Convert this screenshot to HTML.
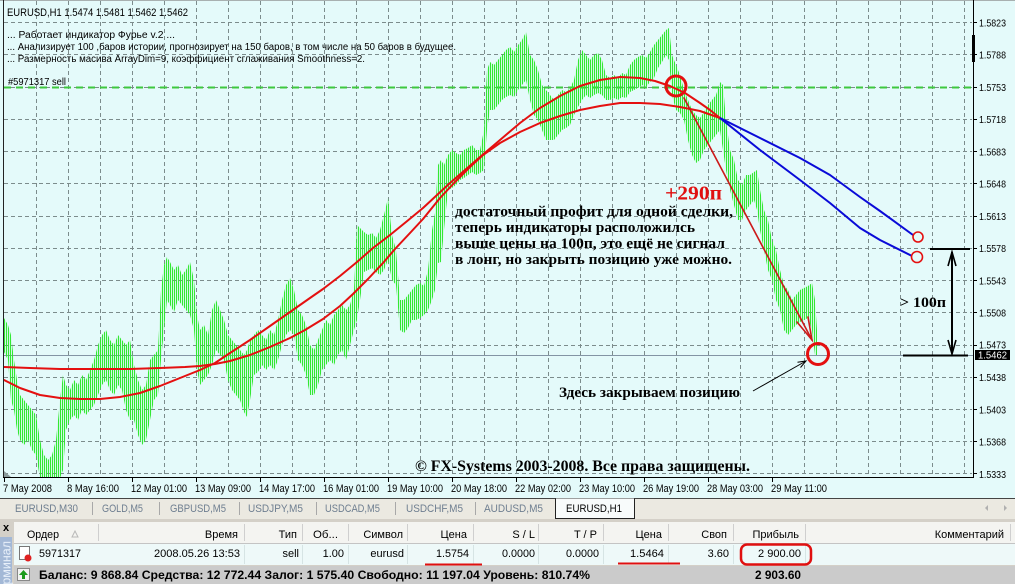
<!DOCTYPE html>
<html><head><meta charset="utf-8"><style>
html,body{margin:0;padding:0;background:#e4fafa;}
svg{display:block;}
</style></head><body>
<svg width="1015" height="584" viewBox="0 0 1015 584" xmlns="http://www.w3.org/2000/svg" font-family="'Liberation Sans','DejaVu Sans',sans-serif">
<defs>
<pattern id="bars" patternUnits="userSpaceOnUse" x="0" y="0" width="2" height="4">
<rect x="0" y="0" width="1" height="4" fill="#33e833"/>
<rect x="1" y="0" width="1" height="4" fill="#33e833" opacity="0.12"/>
</pattern>
<clipPath id="cl"><rect x="4" y="1" width="969" height="476"/></clipPath>
</defs>

<!-- chart background -->
<rect x="0" y="0" width="1015" height="498" fill="#e4fafa"/>
<line x1="0" y1="0.5" x2="1015" y2="0.5" stroke="#a8b0b0"/>

<!-- grid -->
<g stroke="#7c8c8c" stroke-width="1" stroke-dasharray="4,3" fill="none">
<path d="M4 22.5H972M4 54.5H972M4 87.5H972M4 119.5H972M4 151.5H972M4 183.5H972M4 216.5H972M4 248.5H972M4 280.5H972M4 312.5H972M4 345.5H972M4 377.5H972M4 409.5H972M4 441.5H972M4 473.5H972"/>
<path d="M36.5 1V477M68.5 1V477M100.5 1V477M132.5 1V477M164.5 1V477M196.5 1V477M228.5 1V477M260.5 1V477M292.5 1V477M324.5 1V477M356.5 1V477M388.5 1V477M420.5 1V477M452.5 1V477M484.5 1V477M516.5 1V477M548.5 1V477M580.5 1V477M612.5 1V477M644.5 1V477M676.5 1V477M708.5 1V477M740.5 1V477M772.5 1V477M804.5 1V477M836.5 1V477M868.5 1V477M900.5 1V477M932.5 1V477M964.5 1V477"/>
</g>

<!-- price line & order line -->
<line x1="4" y1="355.5" x2="973" y2="355.5" stroke="#8394a4" stroke-width="1"/>
<line x1="4" y1="87.5" x2="972" y2="87.5" stroke="#3ec83e" stroke-width="2" stroke-dasharray="7,5"/>

<!-- price bars -->
<polygon clip-path="url(#cl)" fill="url(#bars)" points="4,318 8,325 11,335 14,360 17,380 20,395 24,400 28,405 32,410 36,415 40,440 44,455 48,460 52,455 56,440 60,400 63,375 66,385 70,390 74,380 78,385 82,375 86,380 90,370 94,360 98,345 102,335 106,330 110,340 114,345 118,335 122,340 126,345 130,340 134,365 138,380 142,390 146,385 150,360 154,355 158,350 161,290 164,265 167,257 170,262 174,270 178,265 182,275 186,270 190,262 194,280 197,315 200,330 204,325 208,335 212,310 216,300 220,310 224,320 228,335 232,340 236,345 240,350 244,355 247,350 250,340 254,335 258,330 262,335 266,340 270,330 274,335 278,320 282,300 286,285 290,278 294,290 298,310 302,315 306,325 310,345 314,350 318,340 322,330 326,320 330,325 334,315 338,310 342,305 346,310 350,305 354,290 357,225 360,228 364,232 368,235 372,233 376,238 380,230 384,215 388,198 392,235 396,250 400,300 404,300 408,295 412,290 416,285 420,283 424,286 428,270 432,230 435,213 438,165 441,160 444,165 448,155 452,150 456,153 460,155 464,150 468,148 472,145 476,150 480,150 484,130 487,70 490,62 494,65 498,60 502,55 506,50 510,47 514,52 518,45 522,40 526,32 530,55 534,60 538,70 542,85 546,90 550,95 554,100 558,95 562,90 566,92 570,88 574,80 578,60 582,50 586,55 590,60 594,55 598,53 602,60 606,75 610,78 614,75 618,78 622,73 626,75 630,65 634,60 638,57 642,55 646,58 650,52 654,45 658,40 662,35 666,30 669,28 672,55 676,65 680,75 684,90 688,100 692,110 696,115 700,118 704,112 708,105 712,100 716,95 720,82 723,85 726,120 730,150 734,160 738,180 742,185 746,175 750,175 754,172 757,170 760,190 764,210 768,220 772,240 776,250 780,270 784,285 788,290 792,300 796,295 800,290 804,288 808,286 812,283 815,300 817,330 817,355 815,355 812,330 808,318 804,320 800,322 796,325 792,330 788,335 784,330 780,310 776,300 772,280 768,270 764,250 760,230 757,210 754,200 750,205 746,210 742,220 738,220 734,205 730,190 726,170 723,150 720,130 716,135 712,140 708,145 704,150 700,160 696,163 692,155 688,140 684,120 680,113 676,110 672,95 669,60 666,55 662,62 658,68 654,78 650,82 646,87 642,85 638,88 634,90 630,92 626,98 622,97 618,100 614,98 610,100 606,100 602,95 598,93 594,95 590,98 586,95 582,100 578,107 574,115 570,125 566,128 562,130 558,135 554,140 550,140 546,140 542,130 538,120 534,115 530,100 526,80 522,85 518,90 514,97 510,95 506,97 502,100 498,105 494,110 490,110 487,130 484,170 480,173 476,175 472,172 468,175 464,178 460,180 456,185 452,188 448,190 444,230 441,262 438,263 435,290 432,300 428,310 424,315 420,318 416,320 412,320 408,328 404,333 400,330 396,285 392,280 388,260 384,270 380,275 376,272 372,268 368,270 364,272 360,300 357,320 354,330 350,345 346,360 342,350 338,355 334,365 330,360 326,365 322,370 318,385 314,395 310,395 306,375 302,365 298,360 294,335 290,330 286,335 282,345 278,360 274,370 270,365 266,370 262,365 258,372 254,375 250,400 247,417 244,412 240,400 236,395 232,390 228,380 224,360 220,355 216,350 212,365 208,375 204,380 200,385 197,370 194,330 190,315 186,310 182,305 178,300 174,312 170,305 167,300 164,330 161,360 158,395 154,400 150,420 146,440 142,445 138,435 134,420 130,420 126,410 122,390 118,385 114,395 110,390 106,380 102,385 98,395 94,405 90,410 86,415 82,410 78,420 74,415 70,420 66,430 63,470 60,478 56,478 52,478 48,478 44,478 40,478 36,455 32,450 28,440 24,445 20,440 17,430 14,410 11,400 8,360 4,352"/>

<!-- red fourier curves -->
<g fill="none" stroke="#e41010" stroke-width="2" stroke-linejoin="round" stroke-linecap="round">
<polyline points="4,380 20,388 40,395 60,398 80,399 100,399 120,397 140,393 160,386 180,378 200,370 215,363 230,353 250,340 270,326 290,312 310,298 323,289 340,276 357,262 373,248 390,235 406,222 423,208 437,195 450,183 465,170 480,157 500,140 520,123 540,108 560,96 580,86 600,80 620,77 640,78 655,81 670,86 685,93 700,103 710,110 720,118"/>
<polyline points="4,367 30,368 60,369 100,369 130,369 160,368 185,367 200,366 215,364 230,361 250,355 270,347 290,338 305,330 323,319 340,306 353,294 368,279 383,263 395,249 410,233 423,219 440,198 455,182 470,167 483,155 500,143 520,132 540,123 560,116 580,110 600,106 620,103 640,103 660,104 680,107 700,111 720,118"/>
</g>
<!-- blue forecast curves -->
<g fill="none" stroke="#0a0ad8" stroke-width="2" stroke-linejoin="round">
<polyline points="720,118 760,138 800,158 830,175 860,197 880,211 913,235"/>
<polyline points="720,118 760,150 800,180 830,203 860,228 880,240 912,256"/>
</g>

<!-- red arrow -->
<g stroke="#cc1a1a" stroke-width="1.6" fill="none" stroke-linecap="round">
<line x1="684" y1="98" x2="812" y2="340"/>
<polyline points="797,322 812,340 808,317"/>
</g>
<!-- circles -->
<g fill="none" stroke="#e41010">
<circle cx="676" cy="86" r="10" stroke-width="3"/>
<circle cx="818" cy="354" r="10.5" stroke-width="3"/>
<circle cx="918" cy="237" r="5" stroke-width="1.6"/>
<circle cx="917" cy="257" r="5.5" stroke-width="1.6"/>
</g>

<!-- black measure lines -->
<g stroke="#000" fill="none">
<line x1="930" y1="249" x2="970" y2="249" stroke-width="2"/>
<line x1="903" y1="355.5" x2="968" y2="355.5" stroke-width="2"/>
<line x1="952" y1="252" x2="952" y2="353" stroke-width="2"/>
<polyline points="948,266 952,252 956,266" stroke-width="1.6"/>
<polyline points="948,340 952,354 956,340" stroke-width="1.6"/>
<line x1="753" y1="391" x2="806" y2="361" stroke-width="1"/>
<polyline points="797.5,362.3 806,361 800.5,367.5" stroke-width="1"/>
</g>

<!-- chart frame -->
<line x1="3.5" y1="0" x2="3.5" y2="478" stroke="#222" stroke-width="1"/>
<line x1="3" y1="477.5" x2="974" y2="477.5" stroke="#000" stroke-width="1"/>
<line x1="973.5" y1="0" x2="973.5" y2="478" stroke="#000" stroke-width="1"/>
<rect x="972" y="35" width="3" height="27" fill="#000"/>
<polygon points="4,471 4,477 11,477" fill="#8a9a9a"/>

<!-- right axis ticks -->
<path d="M973 22.5H977M973 54.5H977M973 87.5H977M973 119.5H977M973 151.5H977M973 183.5H977M973 216.5H977M973 248.5H977M973 280.5H977M973 312.5H977M973 345.5H977M973 377.5H977M973 409.5H977M973 441.5H977M973 473.5H977" stroke="#000"/>
<!-- bottom axis ticks -->
<path d="M4.5 478V482M68.5 478V482M132.5 478V482M196.5 478V482M260.5 478V482M324.5 478V482M388.5 478V482M452.5 478V482M516.5 478V482M580.5 478V482M644.5 478V482M708.5 478V482M772.5 478V482" stroke="#000"/>

<!-- price labels -->
<g font-size="10.5" fill="#000">
<text x="979" y="26.5" textLength="27" lengthAdjust="spacingAndGlyphs">1.5823</text>
<text x="979" y="58.7" textLength="27" lengthAdjust="spacingAndGlyphs">1.5788</text>
<text x="979" y="91" textLength="27" lengthAdjust="spacingAndGlyphs">1.5753</text>
<text x="979" y="123.2" textLength="27" lengthAdjust="spacingAndGlyphs">1.5718</text>
<text x="979" y="155.5" textLength="27" lengthAdjust="spacingAndGlyphs">1.5683</text>
<text x="979" y="187.7" textLength="27" lengthAdjust="spacingAndGlyphs">1.5648</text>
<text x="979" y="219.9" textLength="27" lengthAdjust="spacingAndGlyphs">1.5613</text>
<text x="979" y="252.2" textLength="27" lengthAdjust="spacingAndGlyphs">1.5578</text>
<text x="979" y="284.4" textLength="27" lengthAdjust="spacingAndGlyphs">1.5543</text>
<text x="979" y="316.7" textLength="27" lengthAdjust="spacingAndGlyphs">1.5508</text>
<text x="979" y="348.6" textLength="27" lengthAdjust="spacingAndGlyphs">1.5473</text>
<text x="979" y="381.1" textLength="27" lengthAdjust="spacingAndGlyphs">1.5438</text>
<text x="979" y="413.4" textLength="27" lengthAdjust="spacingAndGlyphs">1.5403</text>
<text x="979" y="445.6" textLength="27" lengthAdjust="spacingAndGlyphs">1.5368</text>
<text x="979" y="477.9" textLength="27" lengthAdjust="spacingAndGlyphs">1.5333</text>
</g>
<rect x="975" y="350" width="35" height="10" fill="#000"/>
<text x="978" y="358.6" font-size="10.5" fill="#fff" textLength="29" lengthAdjust="spacingAndGlyphs">1.5462</text>

<!-- time labels -->
<g font-size="11" fill="#000">
<text x="3" y="492" textLength="49" lengthAdjust="spacingAndGlyphs">7 May 2008</text>
<text x="67" y="492" textLength="52" lengthAdjust="spacingAndGlyphs">8 May 16:00</text>
<text x="131" y="492" textLength="56" lengthAdjust="spacingAndGlyphs">12 May 01:00</text>
<text x="195" y="492" textLength="56" lengthAdjust="spacingAndGlyphs">13 May 09:00</text>
<text x="259" y="492" textLength="56" lengthAdjust="spacingAndGlyphs">14 May 17:00</text>
<text x="323" y="492" textLength="56" lengthAdjust="spacingAndGlyphs">16 May 01:00</text>
<text x="387" y="492" textLength="56" lengthAdjust="spacingAndGlyphs">19 May 10:00</text>
<text x="451" y="492" textLength="56" lengthAdjust="spacingAndGlyphs">20 May 18:00</text>
<text x="515" y="492" textLength="56" lengthAdjust="spacingAndGlyphs">22 May 02:00</text>
<text x="579" y="492" textLength="56" lengthAdjust="spacingAndGlyphs">23 May 10:00</text>
<text x="643" y="492" textLength="56" lengthAdjust="spacingAndGlyphs">26 May 19:00</text>
<text x="707" y="492" textLength="56" lengthAdjust="spacingAndGlyphs">28 May 03:00</text>
<text x="771" y="492" textLength="56" lengthAdjust="spacingAndGlyphs">29 May 11:00</text>
</g>

<!-- top-left info text -->
<g fill="#000">
<text x="7" y="16" font-size="11" textLength="181" lengthAdjust="spacingAndGlyphs">EURUSD,H1  1.5474 1.5481 1.5462 1.5462</text>
<text x="7" y="38" font-size="10" textLength="168" lengthAdjust="spacingAndGlyphs">... Работает индикатор Фурье v.2 ...</text>
<text x="7" y="50" font-size="10" textLength="449" lengthAdjust="spacingAndGlyphs">... Анализирует 100 ,баров истории, прогнозирует на 150 баров, в том числе на 50 баров в будущее.</text>
<text x="7" y="62" font-size="10" textLength="358" lengthAdjust="spacingAndGlyphs">... Размерность масива ArrayDim=9, коэффициент сглаживания Smoothness=2.</text>
<text x="8" y="85" font-size="10.5" textLength="58" lengthAdjust="spacingAndGlyphs">#5971317 sell</text>
</g>

<!-- annotations -->
<g font-family="'Liberation Serif','DejaVu Serif',serif" font-weight="bold" fill="#000">
<text x="665" y="199.5" font-size="20" fill="#e01010" textLength="57" lengthAdjust="spacingAndGlyphs">+290п</text>
<text x="455" y="216" font-size="15" textLength="278" lengthAdjust="spacingAndGlyphs">достаточный профит для одной сделки,</text>
<text x="455" y="232" font-size="15" textLength="240" lengthAdjust="spacingAndGlyphs">теперь индикаторы расположилсь</text>
<text x="455" y="248" font-size="15" textLength="270" lengthAdjust="spacingAndGlyphs">выше цены на 100п, это ещё не сигнал</text>
<text x="455" y="264" font-size="15" textLength="277" lengthAdjust="spacingAndGlyphs">в лонг, но закрыть позицию уже можно.</text>
<text x="900" y="307" font-size="15" textLength="46" lengthAdjust="spacingAndGlyphs">&gt; 100п</text>
<text x="559" y="397" font-size="15" textLength="181" lengthAdjust="spacingAndGlyphs">Здесь закрываем позицию</text>
<text x="415" y="471" font-size="16" textLength="335" lengthAdjust="spacingAndGlyphs">© FX-Systems 2003-2008. Все права защищены.</text>
</g>

<!-- tab bar -->
<rect x="0" y="498" width="1015" height="21" fill="#ebe9e1"/>
<line x1="0" y1="498.5" x2="1015" y2="498.5" stroke="#444"/>
<g stroke="#a8a8a8">
<line x1="92.5" y1="502" x2="92.5" y2="515"/>
<line x1="159.5" y1="502" x2="159.5" y2="515"/>
<line x1="239.5" y1="502" x2="239.5" y2="515"/>
<line x1="316.5" y1="502" x2="316.5" y2="515"/>
<line x1="395.5" y1="502" x2="395.5" y2="515"/>
<line x1="475.5" y1="502" x2="475.5" y2="515"/>
</g>
<g font-size="11" fill="#6e7e90">
<text x="15" y="512" textLength="63" lengthAdjust="spacingAndGlyphs">EURUSD,M30</text>
<text x="102" y="512" textLength="41" lengthAdjust="spacingAndGlyphs">GOLD,M5</text>
<text x="170" y="512" textLength="56" lengthAdjust="spacingAndGlyphs">GBPUSD,M5</text>
<text x="248" y="512" textLength="55" lengthAdjust="spacingAndGlyphs">USDJPY,M5</text>
<text x="325" y="512" textLength="55" lengthAdjust="spacingAndGlyphs">USDCAD,M5</text>
<text x="406" y="512" textLength="57" lengthAdjust="spacingAndGlyphs">USDCHF,M5</text>
<text x="484" y="512" textLength="59" lengthAdjust="spacingAndGlyphs">AUDUSD,M5</text>
</g>
<path d="M555.5 498.5V518.5H634.5V498.5" fill="#f8fbfb" stroke="#222"/>
<text x="566" y="512" font-size="11" fill="#000" textLength="56" lengthAdjust="spacingAndGlyphs">EURUSD,H1</text>
<polygon points="988,505 988,511 985,508" fill="#b0b0b0"/>
<polygon points="1004,505 1004,511 1007,508" fill="#b0b0b0"/>

<!-- terminal -->
<rect x="0" y="519" width="1015" height="65" fill="#d4d0c8"/>
<text x="3" y="531" font-size="11" font-weight="bold" fill="#000">x</text>
<rect x="0" y="537" width="12" height="47" fill="#a3b8d6"/>
<text transform="translate(10.5,541) rotate(-90)" text-anchor="end" font-size="12.5" fill="#e8f0fa">Терминал</text>

<rect x="14" y="522" width="1001" height="21" fill="#f4f4f1"/>
<line x1="14" y1="543.5" x2="1015" y2="543.5" stroke="#c4c4c4"/>
<rect x="14" y="544" width="1001" height="21" fill="#eef9f9"/>
<rect x="14" y="566" width="1001" height="18" fill="#cbcbcb"/>

<g stroke="#cfcfcf">
<path d="M98.5 524V541M244.5 524V541M302.5 524V541M348.5 524V541M407.5 524V541M473.5 524V541M538.5 524V541M603.5 524V541M668.5 524V541M733.5 524V541M805.5 524V541M1010.5 524V541"/>
</g>
<g stroke="#d6e4e4">
<path d="M244.5 545V564M302.5 545V564M348.5 545V564M407.5 545V564M473.5 545V564M538.5 545V564M603.5 545V564M668.5 545V564M733.5 545V564M805.5 545V564"/>
</g>

<g font-size="11" fill="#000">
<text x="27" y="538" textLength="32" lengthAdjust="spacingAndGlyphs">Ордер</text>
<text x="238" y="538" text-anchor="end">Время</text>
<text x="297" y="538" text-anchor="end">Тип</text>
<text x="313" y="538" textLength="25" lengthAdjust="spacingAndGlyphs">Об...</text>
<text x="403" y="538" text-anchor="end">Символ</text>
<text x="467" y="538" text-anchor="end">Цена</text>
<text x="535" y="538" text-anchor="end">S / L</text>
<text x="597" y="538" text-anchor="end">T / P</text>
<text x="662" y="538" text-anchor="end">Цена</text>
<text x="727" y="538" text-anchor="end">Своп</text>
<text x="799" y="538" text-anchor="end">Прибыль</text>
<text x="1004" y="538" text-anchor="end">Комментарий</text>
</g>
<polygon points="72,537 78,537 75,531" fill="none" stroke="#b8b8b8"/>

<!-- row 1 -->
<rect x="19.5" y="546.5" width="10" height="13" fill="#fff" stroke="#777"/>
<circle cx="28" cy="558" r="3.5" fill="#e02020"/>
<g font-size="11" fill="#000">
<text x="39" y="557" textLength="42" lengthAdjust="spacingAndGlyphs">5971317</text>
<text x="240" y="557" text-anchor="end" textLength="86" lengthAdjust="spacingAndGlyphs">2008.05.26 13:53</text>
<text x="299" y="557" text-anchor="end">sell</text>
<text x="344" y="557" text-anchor="end">1.00</text>
<text x="404" y="557" text-anchor="end">eurusd</text>
<text x="469" y="557" text-anchor="end" textLength="33" lengthAdjust="spacingAndGlyphs">1.5754</text>
<text x="535" y="557" text-anchor="end" textLength="33" lengthAdjust="spacingAndGlyphs">0.0000</text>
<text x="599" y="557" text-anchor="end" textLength="33" lengthAdjust="spacingAndGlyphs">0.0000</text>
<text x="664" y="557" text-anchor="end" textLength="34" lengthAdjust="spacingAndGlyphs">1.5464</text>
<text x="729" y="557" text-anchor="end">3.60</text>
<text x="801" y="557" text-anchor="end" textLength="43" lengthAdjust="spacingAndGlyphs">2 900.00</text>
</g>
<line x1="425" y1="564.5" x2="482" y2="564.5" stroke="#e01010" stroke-width="2"/>
<line x1="618" y1="563.5" x2="680" y2="563.5" stroke="#e01010" stroke-width="2"/>
<rect x="741" y="544.5" width="70" height="20" rx="6" fill="none" stroke="#e01010" stroke-width="2.5"/>

<!-- row 2 -->
<rect x="17.5" y="568.5" width="12" height="12" fill="#f2f2f2" stroke="#888"/>
<polygon points="23.5,570 28,575 25,575 25,579 22,579 22,575 19,575" fill="#1a9a1a"/>
<g font-size="11.5" font-weight="bold" fill="#000">
<text x="39" y="579" textLength="551" lengthAdjust="spacingAndGlyphs">Баланс: 9 868.84 Средства: 12 772.44 Залог: 1 575.40 Свободно: 11 197.04 Уровень: 810.74%</text>
<text x="801" y="579" text-anchor="end" textLength="46" lengthAdjust="spacingAndGlyphs">2 903.60</text>
</g>
</svg>
</body></html>
